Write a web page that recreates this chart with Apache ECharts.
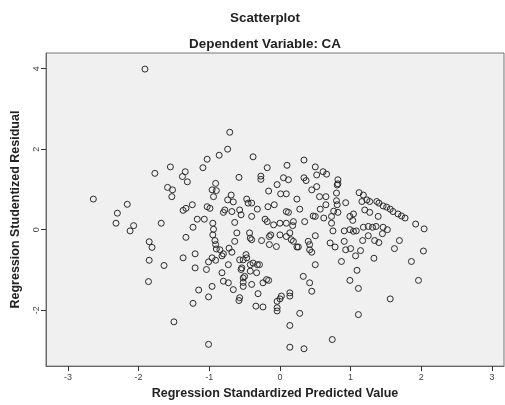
<!DOCTYPE html>
<html>
<head>
<meta charset="utf-8">
<script src="https://cdn.jsdelivr.net/npm/echarts@6/dist/echarts.min.js"></script>
<style>
html,body{margin:0;padding:0;background:#fff;}
#chart{width:505px;height:405px;}
</style>
</head>
<body>
<div id="chart"></div>
<script>
// [predicted value, studentized residual]
const leftCluster = [[-1.91,3.99],[-1.77,1.40],[-1.55,1.56],[-1.34,1.44],[-1.38,1.32],[-1.31,1.19],[-1.59,1.05],[-1.52,0.99],[-1.53,0.82],[-2.64,0.76],[-2.16,0.63],[-2.30,0.41],[-2.32,0.16],[-2.07,0.10],[-2.12,-0.03],[-1.68,0.16],[-1.37,0.48],[-1.33,0.53],[-1.24,0.62],[-1.17,0.26],[-1.23,0.06],[-1.33,-0.19],[-1.85,-0.30],[-1.81,-0.44],[-1.85,-0.76],[-1.64,-0.89],[-1.37,-0.70],[-1.20,-0.60],[-1.20,-0.95],[-1.86,-1.29],[-1.15,-1.50],[-1.23,-1.83],[-1.50,-2.29]];
const upperCluster = [[-0.71,2.42],[-0.74,2.00],[-0.86,1.85],[-1.03,1.75],[-1.09,1.54],[-0.38,1.81],[-0.18,1.54],[0.10,1.60],[0.34,1.73],[0.50,1.56],[0.61,1.44],[0.66,1.38],[-0.58,1.30],[-0.27,1.33],[0.05,1.29],[0.34,1.29],[0.52,1.36],[-0.27,1.25],[0.12,1.24],[0.37,1.22],[-0.91,1.15],[-0.04,1.12],[0.52,1.07],[0.81,1.11],[0.82,1.24],[0.82,1.14]];
const centerUpper = [[-0.96,0.99],[-0.90,0.97],[-0.16,0.96],[0.01,0.89],[0.09,0.89],[0.24,0.76],[0.45,0.99],[0.56,0.82],[0.65,0.82],[0.80,0.91],[-0.94,0.82],[-0.69,0.86],[-0.74,0.74],[-0.66,0.69],[-0.47,0.76],[-0.45,0.66],[-0.40,0.66],[-0.32,0.51],[-1.03,0.57],[-0.99,0.53],[-0.78,0.49],[-0.80,0.43],[-0.68,0.45],[-0.57,0.49],[-0.55,0.37],[-0.17,0.57],[-0.08,0.62],[0.09,0.45],[0.12,0.43],[0.28,0.51],[0.47,0.34],[0.57,0.51],[0.65,0.62],[0.76,0.46],[0.80,0.72],[-1.07,0.26],[-0.95,0.16],[-0.94,0.01],[-0.64,0.18],[-0.40,0.33],[-0.21,0.26],[-0.18,0.20],[-0.09,0.12],[0.00,0.16],[0.09,0.16],[0.19,0.20],[0.18,0.10],[0.35,0.20],[0.50,0.33],[0.62,0.29]];
const centerLower = [[-0.95,-0.13],[-0.92,-0.27],[-0.61,-0.08],[-0.64,-0.29],[-0.43,-0.08],[-0.42,-0.21],[-0.40,-0.25],[-0.26,-0.27],[-0.15,-0.17],[-0.13,-0.13],[0.00,-0.13],[0.09,-0.17],[0.14,-0.08],[0.16,-0.25],[0.19,-0.29],[0.24,-0.43],[0.40,-0.29],[0.42,-0.37],[0.50,-0.15],[-0.91,-0.37],[-0.90,-0.48],[-0.85,-0.50],[-0.72,-0.46],[-0.68,-0.56],[-0.80,-0.60],[-0.48,-0.62],[-0.15,-0.37],[-0.05,-0.42],[0.26,-0.43],[0.42,-0.50],[0.45,-0.56],[-0.96,-0.70],[-0.91,-0.76],[-0.82,-0.65],[-0.57,-0.75],[-0.52,-0.75],[-0.47,-0.70],[-0.42,-0.87],[-0.38,-0.83],[-0.32,-0.87],[-0.29,-0.87],[-1.01,-0.80],[-1.04,-0.99],[-0.82,-1.07],[-0.73,-0.87],[-0.54,-0.95],[-0.55,-0.99],[-0.50,-1.16],[-0.42,-1.03],[-0.33,-1.07],[-0.19,-1.24],[-0.16,-1.26],[0.50,-0.87],[0.33,-1.16]];
const bottomCluster = [[-0.96,-1.41],[-0.80,-1.28],[-0.73,-1.32],[-0.66,-1.49],[-0.52,-1.20],[-0.52,-1.31],[-0.52,-1.41],[-0.40,-1.36],[-0.24,-1.32],[-0.57,-1.69],[0.02,-1.65],[0.42,-1.32],[-1.01,-1.67],[-0.58,-1.76],[-0.31,-1.59],[-0.34,-1.90],[-0.24,-1.92],[-0.04,-1.78],[0.00,-1.72],[-0.04,-1.94],[-0.04,-2.02],[0.14,-1.57],[0.14,-1.65],[0.45,-1.53],[0.28,-2.08],[0.14,-2.38],[0.74,-2.73],[-1.01,-2.85],[0.14,-2.92],[0.34,-2.96]];
const rightCluster = [[1.12,0.92],[1.18,0.86],[0.81,0.62],[0.93,0.67],[1.16,0.70],[1.23,0.74],[1.27,0.70],[1.37,0.70],[1.40,0.66],[1.46,0.59],[1.51,0.56],[1.56,0.51],[1.60,0.45],[1.67,0.39],[1.72,0.34],[1.77,0.29],[1.92,0.14],[2.04,0.02],[1.20,0.49],[1.27,0.43],[1.39,0.33],[0.82,0.43],[1.04,0.39],[0.99,0.33],[1.03,0.23],[0.73,0.33],[0.73,0.16],[0.75,-0.03],[0.91,-0.03],[0.99,0.00],[1.04,-0.04],[1.08,-0.03],[1.18,0.06],[1.25,0.08],[1.31,0.06],[1.36,0.08],[1.46,0.06],[1.52,0.00],[1.45,-0.10],[1.25,-0.15],[1.17,-0.27],[1.34,-0.27],[1.40,-0.32],[1.69,-0.27],[1.62,-0.47],[0.91,-0.29],[0.71,-0.33],[0.78,-0.43],[0.93,-0.50],[1.00,-0.47],[1.14,-0.52],[1.07,-0.65],[0.87,-0.79],[1.33,-0.71],[1.86,-0.79],[2.03,-0.53],[1.09,-1.01],[0.99,-1.26],[1.11,-1.46],[1.96,-1.26],[1.56,-1.72],[1.11,-2.11]];

const xTicks = [-3,-2,-1,0,1,2,3];
const yTicks = [-2,0,2,4];

const allPoints = [].concat(leftCluster, upperCluster, centerUpper, centerLower, bottomCluster, rightCluster);

const chart = echarts.init(document.getElementById('chart'), null, {renderer:'canvas'});
const font = '"Liberation Sans", Arial, sans-serif';
chart.setOption({
  animation: false,
  backgroundColor: '#ffffff',
  textStyle: {fontFamily: font},
  title: [
    {text: 'Scatterplot', left: 260, top: 7, textAlign: 'center',
     textStyle: {fontSize: 13.4, fontWeight: 'bold', color: '#222', fontFamily: font}},
    {text: 'Dependent Variable: CA', left: 260, top: 33, textAlign: 'center',
     textStyle: {fontSize: 13.4, fontWeight: 'bold', color: '#222', fontFamily: font}}
  ],
  grid: {left: 46, right: 1, top: 53, bottom: 38, show: true,
         backgroundColor: '#f0f0f0', borderColor: '#777', borderWidth: 1},
  xAxis: {
    type: 'value', min: -3.31, max: 3.17,
    name: 'Regression Standardized Predicted Value', nameLocation: 'middle', nameGap: 20,
    nameTextStyle: {fontSize: 12.5, fontWeight: 'bold', color: '#222', fontFamily: font},
    splitLine: {show: false},
    axisLine: {show: true, onZero: false, lineStyle: {color: '#666'}},
    axisTick: {show: true, length: 5, customValues: xTicks, lineStyle: {color: '#333'}},
    axisLabel: {customValues: xTicks, fontSize: 9, color: '#444', margin: 7, fontFamily: font}
  },
  yAxis: {
    type: 'value', min: -3.39, max: 4.39,
    name: 'Regression Studentized Residual', nameLocation: 'middle', nameGap: 24,
    nameTextStyle: {fontSize: 12.5, fontWeight: 'bold', color: '#222', fontFamily: font},
    splitLine: {show: false},
    axisLine: {show: true, onZero: false, lineStyle: {color: '#666'}},
    axisTick: {show: true, length: 5, customValues: yTicks, lineStyle: {color: '#333'}},
    axisLabel: {customValues: yTicks, rotate: 90, fontSize: 9, color: '#444', margin: 5, fontFamily: font}
  },
  series: [{
    type: 'scatter',
    data: allPoints,
    symbol: 'circle',
    symbolSize: 6,
    itemStyle: {color: 'rgba(0,0,0,0)', borderColor: '#2a2a2a', borderWidth: 1, opacity: 1}
  }]
});
</script>
</body>
</html>
